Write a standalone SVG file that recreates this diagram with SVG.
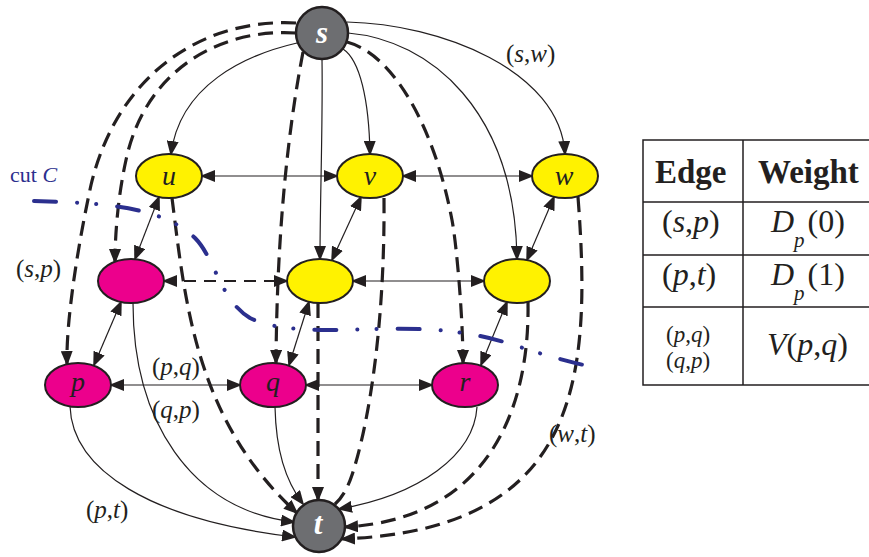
<svg xmlns="http://www.w3.org/2000/svg" width="869" height="557" viewBox="0 0 869 557">
<defs>
<marker id="ah" viewBox="0 0 15 12" refX="13" refY="6" markerWidth="15" markerHeight="12" markerUnits="userSpaceOnUse" orient="auto-start-reverse"><path d="M0,0 L15,6 L0,12 z" fill="#231F20"/></marker>
</defs>
<style>
.e{fill:none;stroke:#231F20;stroke-width:1.2}
.d{fill:none;stroke:#231F20;stroke-width:3.2;stroke-dasharray:15 8}
.dn{fill:none;stroke:#231F20;stroke-width:2;stroke-dasharray:12 8}
.a{marker-end:url(#ah)}
.b{marker-start:url(#ah);marker-end:url(#ah)}
.y{fill:#FFF200;stroke:#231F20;stroke-width:2}
.m{fill:#EC008C;stroke:#231F20;stroke-width:2}
.g{fill:#6D6E71;stroke:#231F20;stroke-width:2.5}
.nl{font-family:"Liberation Serif",serif;font-style:italic;font-size:28px;fill:#231F20;text-anchor:middle}
.st{font-family:"Liberation Serif",serif;font-style:italic;font-weight:bold;font-size:31px;fill:#FFFFFF;text-anchor:middle}
.lb{font-family:"Liberation Serif",serif;font-size:25px;fill:#231F20}
.ls{font-family:"Liberation Serif",serif;font-size:23px;fill:#231F20}
.tb{font-family:"Liberation Serif",serif;font-size:32px;fill:#231F20}
.th{font-family:"Liberation Serif",serif;font-size:33px;font-weight:bold;fill:#231F20}
.i{font-style:italic}
.cut{fill:none;stroke:#2B2F8E;stroke-width:4;stroke-linecap:round;stroke-dasharray:22 21 0.1 19 0.1 21}
</style>
<g id="connectors">
<path class="e a" d="M297,43 C245,55 180,85 171,154"/>
<path class="d a" d="M296,23 C205,18 118,72 91,185 C78,245 66,320 67,364"/>
<path class="d a" d="M296,33 C220,28 145,70 126,160 C118,196 115,235 115,262"/>
<path class="d a" d="M303,52 C290,120 277,220 276,363"/>
<path class="e a" d="M322,59 C323,120 320,200 320,259"/>
<path class="e a" d="M343,49 C360,60 369,100 370,154"/>
<path class="d a" d="M347,42 C395,55 435,130 452,220 C457,247 463,320 463,363"/>
<path class="e a" d="M348,33 C430,40 515,110 517,259"/>
<path class="e a" d="M347,22 C440,24 560,70 565,154"/>
<path class="e b" d="M202,176 L337,176"/>
<path class="e b" d="M403,176 L532,176"/>
<path class="e b" d="M159,197 L135,259"/>
<path class="e b" d="M361,197 L332,260"/>
<path class="e b" d="M554,197 L527,260"/>
<path class="dn b" d="M164,281 L287,281"/>
<path class="e b" d="M353,281 L484,281"/>
<path class="e b" d="M121,302 L94,365"/>
<path class="e b" d="M309,302 L289,365"/>
<path class="e b" d="M507,302 L481,365"/>
<path class="e b" d="M111,385 L240,385"/>
<path class="e b" d="M306,385 L432,385"/>
<path class="e a" d="M70,406 C72,470 150,520 295,537"/>
<path class="e a" d="M133,303 C133,420 190,510 294,522"/>
<path class="d a" d="M172,198 C185,300 195,420 297,513"/>
<path class="e a" d="M275,407 C276,450 285,480 303,504"/>
<path class="d a" d="M318,303 L318,500"/>
<path class="d" d="M384,198 C385,320 370,420 352,475 C347,490 341,499 334,505"/>
<path class="e a" d="M477,407 C474,455 420,495 339,509"/>
<path class="d a" d="M528,302 C530,420 480,520 345,527"/>
<path class="d a" d="M578,197 C592,380 580,530 342,539"/>
</g>
<g id="edge-labels">
<text class="lb" x="16" y="277">(<tspan class="i">s</tspan>,<tspan class="i">p</tspan>)</text>
<text class="lb" x="506" y="62">(<tspan class="i">s</tspan>,<tspan class="i">w</tspan>)</text>
<text class="lb" x="152" y="375">(<tspan class="i">p</tspan>,<tspan class="i">q</tspan>)</text>
<text class="lb" x="152" y="418">(<tspan class="i">q</tspan>,<tspan class="i">p</tspan>)</text>
<text class="lb" x="86" y="518">(<tspan class="i">p</tspan>,<tspan class="i">t</tspan>)</text>
<text class="lb" x="549" y="442">(<tspan class="i">w</tspan>,<tspan class="i">t</tspan>)</text>
</g>
<g id="node-s"><circle class="g" cx="322" cy="33" r="26"/><text class="st" x="322" y="43">s</text></g>
<g id="node-u"><ellipse class="y" cx="169" cy="176" rx="33" ry="22"/><text class="nl" x="169" y="185">u</text></g>
<g id="node-v"><ellipse class="y" cx="370" cy="176" rx="33" ry="22"/><text class="nl" x="370" y="185">v</text></g>
<g id="node-w"><ellipse class="y" cx="565" cy="176" rx="33" ry="22"/><text class="nl" x="564" y="185">w</text></g>
<g id="node-m1"><ellipse class="m" cx="131" cy="281" rx="33" ry="22"/></g>
<g id="node-y1"><ellipse class="y" cx="320" cy="281" rx="33" ry="22"/></g>
<g id="node-y2"><ellipse class="y" cx="517" cy="281" rx="33" ry="22"/></g>
<g id="node-p"><ellipse class="m" cx="78" cy="385" rx="33" ry="22"/><text class="nl" x="78" y="391">p</text></g>
<g id="node-q"><ellipse class="m" cx="273" cy="385" rx="33" ry="22"/><text class="nl" x="273" y="391">q</text></g>
<g id="node-r"><ellipse class="m" cx="465" cy="385" rx="33" ry="22"/><text class="nl" x="465" y="391">r</text></g>
<g id="node-t"><circle class="g" cx="319" cy="526" r="26"/><text class="st" x="318" y="534">t</text></g>
<g id="cut">
<path class="cut" d="M34,201 C100,203 160,205 195,238 C215,258 220,300 250,318 C280,333 330,330 380,329 C430,328 470,330 520,347 C550,357 575,363 592,367"/>
<text x="10" y="182" font-family="Liberation Serif, serif" font-size="22" fill="#2B2F8E">cut <tspan font-style="italic">C</tspan></text>
</g>
<g id="table">
<path d="M869,140 L643,140 L643,385 L869,385 M643,202 L869,202 M643,255 L869,255 M643,307 L869,307 M743,140 L743,385" fill="none" stroke="#231F20" stroke-width="1.5"/>
<text class="th" x="655" y="183">Edge</text>
<text class="th" x="758" y="183">Weight</text>
<text class="tb" x="662" y="232">(<tspan class="i">s</tspan>,<tspan class="i">p</tspan>)</text>
<text class="tb" x="771" y="232"><tspan class="i">D</tspan><tspan class="i" font-size="21" dy="15">p</tspan><tspan dx="3" dy="-15">(0)</tspan></text>
<text class="tb" x="662" y="285">(<tspan class="i">p</tspan>,<tspan class="i">t</tspan>)</text>
<text class="tb" x="771" y="285"><tspan class="i">D</tspan><tspan class="i" font-size="21" dy="15">p</tspan><tspan dx="3" dy="-15">(1)</tspan></text>
<text class="ls" x="666" y="342">(<tspan class="i">p</tspan>,<tspan class="i">q</tspan>)</text>
<text class="ls" x="666" y="368">(<tspan class="i">q</tspan>,<tspan class="i">p</tspan>)</text>
<text class="tb" x="767" y="355" font-size="33"><tspan class="i">V</tspan>(<tspan class="i">p</tspan>,<tspan class="i">q</tspan>)</text>
</g>
</svg>
